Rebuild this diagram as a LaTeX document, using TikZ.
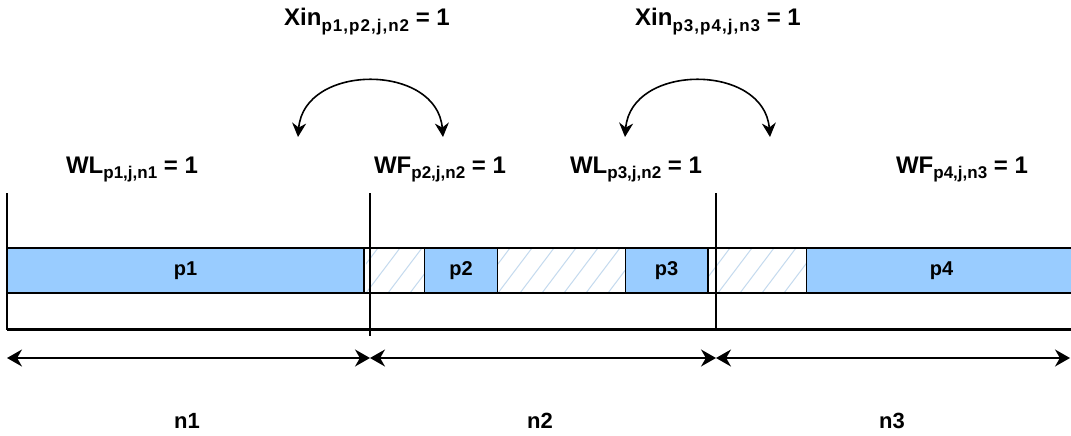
\documentclass[tikz,border=0pt]{standalone}
\usepackage{fontspec}
\setmainfont{Liberation Sans}
\usetikzlibrary{arrows.meta}
\definecolor{boxblue}{HTML}{99CCFF}
\definecolor{hatchblue}{HTML}{C4DAEE}
\newcommand{\subx}[1]{\raisebox{-0.4ex}{\fontsize{17}{20}\selectfont #1}}
\newcommand{\subxs}[1]{\raisebox{-0.4ex}{\fontsize{17}{20}\selectfont\addfontfeatures{LetterSpace=6} #1}}
\begin{document}
\begin{tikzpicture}[x=1pt,y=-1pt,
  lbl/.style={font=\fontsize{24}{28}\selectfont\bfseries, inner sep=0pt, anchor=base},
  nlbl/.style={font=\fontsize{22}{26}\selectfont\bfseries, inner sep=0pt, anchor=base},
  pbox/.style={draw=black, line width=1.2pt, fill=boxblue, minimum height=45pt, inner sep=0pt, anchor=west, font=\fontsize{20}{24}\selectfont\bfseries},
  thinline/.style={line width=1.3pt},
  hatchline/.style={draw=hatchblue, line width=1pt},
  dimarrow/.style={line width=1.5pt, {Stealth[length=15pt,width=17pt]}-{Stealth[length=15pt,width=17pt]}},
  swaparrow/.style={line width=1.6pt, {Stealth[length=14pt,width=14pt]}-{Stealth[length=14pt,width=14pt]}}
]
\useasboundingbox (0,0) rectangle (1071,436);
\fill[white] (0,0) rectangle (1071,436);

% hatched gaps
\begin{scope}
  \clip (366,248) rectangle (424,293) (497,248) rectangle (625,293) (709,248) rectangle (806,293);
  \foreach \i in {300,322,...,840} \draw[hatchline] (\i,293) -- (\i+34,248);
\end{scope}

% bar outline
\draw[thinline] (7,248) -- (1071,248);
\draw[thinline] (7,293) -- (1071,293);
\draw[line width=3pt] (7,329.5) -- (1071,329.5);

% task boxes
\node[pbox, minimum width=356pt] (p1) at (7,270.5) {p1};
\node[pbox, minimum width=73pt] (p2) at (424,270.5) {p2};
\node[pbox, minimum width=82pt] (p3) at (625,270.5) {p3};
\node[pbox, minimum width=270pt] (p4) at (806,270.5) {p4};
\draw[line width=2.5pt] (p1.north east) -- (p1.south east);
\draw[line width=2.5pt] (p3.north east) -- (p3.south east);

% period boundaries
\coordinate (b0t) at (7,193);  \coordinate (b0b) at (7,330);
\coordinate (b1t) at (370,193); \coordinate (b1b) at (370,336);
\coordinate (b2t) at (716,193); \coordinate (b2b) at (716,330);
\draw[thinline] (b0t) -- (b0b);
\draw[thinline] (b1t) -- (b1b);
\draw[thinline] (b2t) -- (b2b);

% dimension arrows
\coordinate (a0) at (7,358);
\coordinate (a1) at (370,358);
\coordinate (a2) at (716,358);
\coordinate (a3) at (1070,358);
\draw[dimarrow] (a0) -- (a1);
\draw[dimarrow] (a1) -- (a2);
\draw[dimarrow] (a2) -- (a3);

\node[nlbl] (n1) at (187,428) {n1};
\node[nlbl] (n2) at (540,428) {n2};
\node[nlbl] (n3) at (892,428) {n3};

% labels
\node[lbl] (wl1) at (132,173) {WL\subx{p1,j,n1} = 1};
\node[lbl] (wf2) at (440,173) {WF\subx{p2,j,n2} = 1};
\node[lbl] (wl3) at (636,173) {WL\subx{p3,j,n2} = 1};
\node[lbl] (wf4) at (962,173) {WF\subx{p4,j,n3} = 1};
\node[lbl] (x1) at (367,26) {Xin\subxs{p1,p2,j,n2} = 1};
\node[lbl] (x2) at (718,26) {Xin\subxs{p3,p4,j,n3} = 1};

% swap arrows
\coordinate (s1l) at (298,137); \coordinate (s1r) at (443,137);
\coordinate (s2l) at (625,137); \coordinate (s2r) at (770,137);
\draw[swaparrow] (s1l) .. controls (304,63) and (437,63) .. (s1r);
\draw[swaparrow] (s2l) .. controls (631,63) and (764,63) .. (s2r);
\end{tikzpicture}
\end{document}
